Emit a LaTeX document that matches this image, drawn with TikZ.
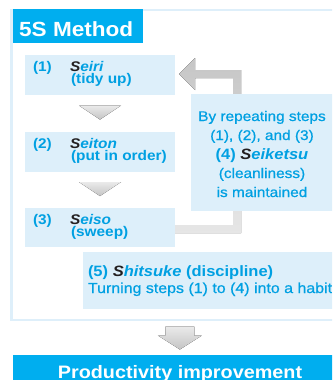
\documentclass[tikz,border=0pt]{standalone}
\usepackage{fontspec}
\setmainfont{Liberation Sans}[FakeStretch=1.1]
\newfontfamily\medfont{Liberation Sans}[FakeStretch=1.1, FakeBold=0.7]
\usetikzlibrary{calc}
\definecolor{cy}{RGB}{0,160,226}
\definecolor{titlebg}{RGB}{0,174,239}
\definecolor{boxfill}{RGB}{221,239,250}
\definecolor{panelline}{RGB}{222,239,250}
\definecolor{sk}{RGB}{35,31,32}
\definecolor{trilight}{RGB}{234,234,234}
\definecolor{tridark}{RGB}{196,196,196}
\definecolor{fbtop}{RGB}{198,198,198}
\definecolor{fbbot}{RGB}{230,230,230}
\newcommand{\SW}[1]{{\bfseries\itshape\textcolor{sk}{S}\textcolor{cy}{#1}}}
\tikzset{
  bluebox/.style={fill=boxfill, draw=none, inner sep=0pt, outer sep=0pt, anchor=north west},
  txtb/.style={inner sep=0pt, outer sep=0pt, text=cy, font=\fontsize{14}{16}\selectfont\bfseries},
  txtr/.style={inner sep=0pt, outer sep=0pt, text=cy, font=\fontsize{14}{16}\selectfont\medfont},
  tri/.style={top color=trilight, bottom color=tridark, draw=none},
  fbshade/.style={top color=fbtop, bottom color=fbbot, draw=none},
}
\begin{document}
\begin{tikzpicture}[x=1pt,y=-1pt]
\useasboundingbox (0,0) rectangle (332,380);
\clip (0,0) rectangle (332,380);
\fill[white] (0,0) rectangle (332,380);

% outer panel
\node[draw=panelline, line width=2.5pt, fill=white, inner sep=0pt, outer sep=0pt,
      anchor=north west, minimum width=336.5pt, minimum height=310pt] (panel) at (11.5,10) {};

% title
\node[fill=titlebg, inner sep=0pt, outer sep=0pt, anchor=north west,
      minimum width=130pt, minimum height=34pt] (title) at (13,9) {};
\node[inner sep=0pt, anchor=base west, text=white,
      font=\fontsize{20.5}{24}\selectfont\bfseries] (titletxt) at (19,36) {5S Method};

% step boxes
\node[bluebox, minimum width=150pt, minimum height=40pt] (s1) at (25,55) {};
\node[bluebox, minimum width=150pt, minimum height=40pt] (s2) at (25,132) {};
\node[bluebox, minimum width=150pt, minimum height=39pt] (s3) at (25,208) {};

% feedback arrow from step 3 back to step 1
\fill[fbshade] ($(s3.east)+(0,-2.5)$) -- ++(58,0) -- ++(0,-147) -- ++(-38,0)
  -- ++(0,12) -- ++(-16,-16) -- ++(16,-16) -- ++(0,12) -- ++(46,0)
  -- ++(0,163) -- ++(-66,0) -- cycle;

% right box (4)
\node[bluebox, minimum width=142pt, minimum height=117pt] (s4) at (191,94) {};
% box (5)
\node[bluebox, minimum width=265pt, minimum height=57pt] (s5) at (83,252) {};

% down triangles
\coordinate (m1) at ($(s1.south)!0.5!(s2.north)$);
\coordinate (m2) at ($(s2.south)!0.5!(s3.north)$);
\fill[tri] ($(m1)+(-21,-8)$) -- ($(m1)+(21,-8)$) -- ($(m1)+(0,6)$) -- cycle;
\fill[tri] ($(m2)+(-21,-8)$) -- ($(m2)+(21,-8)$) -- ($(m2)+(0,6)$) -- cycle;

% productivity box
\node[fill=titlebg, inner sep=0pt, outer sep=0pt, anchor=north west,
      minimum width=334pt, minimum height=40pt] (prod) at (13,355) {};
\coordinate (m3) at ($(panel.south)!0.5!(prod.north)$);
\fill[tri] ($(m3)+(-14.5,-11)$) -- ($(m3)+(14.5,-11)$) -- ($(m3)+(14.5,-2)$)
  -- ($(m3)+(22,-2)$) -- ($(m3)+(0,12)$) -- ($(m3)+(-22,-2)$)
  -- ($(m3)+(-14.5,-2)$) -- cycle;
\node[inner sep=0pt, anchor=base, text=white,
      font=\fontsize{18}{20}\selectfont\bfseries] (prodtxt) at ($(prod.north)+(0,23)$) {Productivity improvement};

% step texts
\node[txtb, anchor=base west] (n1) at (33,71) {(1)};
\node[txtb, anchor=base west] (w1) at (70,71) {\SW{eiri}};
\node[txtb, anchor=base west] (e1) at (71,83) {(tidy up)};
\node[txtb, anchor=base west] (n2) at (33,148) {(2)};
\node[txtb, anchor=base west] (w2) at (70,148) {\SW{eiton}};
\node[txtb, anchor=base west] (e2) at (71,160) {(put in order)};
\node[txtb, anchor=base west] (n3) at (33,224) {(3)};
\node[txtb, anchor=base west] (w3) at (70,224) {\SW{eiso}};
\node[txtb, anchor=base west] (e3) at (71,236) {(sweep)};

% right box texts
\node[txtr, anchor=base] (r1) at (262,121) {By repeating steps};
\node[txtr, anchor=base] (r2) at (262,140) {(1), (2), and (3)};
\node[txtb, anchor=base, font=\fontsize{15}{17}\selectfont\bfseries] (r3) at (262,159) {(4) \SW{eiketsu}};
\node[txtr, anchor=base] (r4) at (262,178) {(cleanliness)};
\node[txtr, anchor=base] (r5) at (262,197) {is maintained};

% box 5 texts
\node[txtb, anchor=base west, font=\fontsize{15}{17}\selectfont\bfseries] (f1) at (88,276) {(5) \SW{hitsuke} (discipline)};
\node[txtr, anchor=base west, font=\fontsize{14.5}{17}\selectfont\medfont] (f2) at (88,293) {Turning steps (1) to (4) into a habit};
\end{tikzpicture}
\end{document}
